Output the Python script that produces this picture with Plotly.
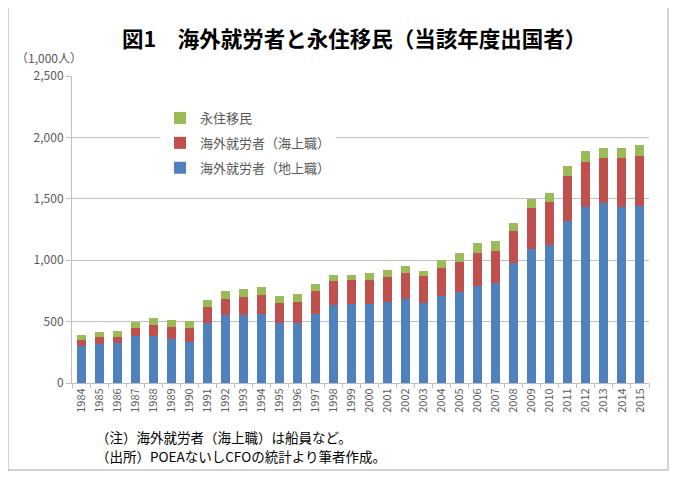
import plotly.graph_objects as go

years = [str(y) for y in range(1984, 2016)]
land_based = [300, 320, 323, 382, 385, 355, 335, 489, 550, 551, 564, 488, 485, 559,
              638, 640, 643, 662, 682, 652, 705, 740, 788, 811, 974, 1092, 1124, 1319,
              1435, 1469, 1431, 1438]
sea_based = [51, 52, 55, 67, 86, 103, 111, 126, 137, 146, 154, 165, 175, 188,
             193, 197, 198, 205, 210, 216, 229, 248, 274, 267, 262, 330, 347, 369,
             367, 367, 402, 407]
permanent = [38, 41, 44, 48, 57, 54, 57, 65, 65, 65, 62, 54, 68, 57,
             47, 43, 52, 54, 62, 48, 71, 71, 79, 79, 66, 79, 79, 81,
             84, 76, 79, 93]

names = ["海外就労者（地上職）", "海外就労者（海上職）", "永住移民"]
colors = ["#4F81BD", "#C0504D", "#9BBB59"]
ranks = [3, 2, 1]
yticks = [0, 500, 1000, 1500, 2000, 2500]

# page body has an 8px margin; work in screen pixels and shift
OFF = 8
W, H = 679 - OFF, 479 - OFF
# plot area in screen pixels
PX0, PX1, PY0, PY1 = 72, 649, 76, 383
L, T = PX0 - OFF, PY0 - OFF
R, B = W - (PX1 - OFF), H - (PY1 - OFF)
pw, ph = PX1 - PX0, PY1 - PY0

def fx(px):
    return (px - PX0) / pw

def fy(py):
    return (PY1 - py) / ph

JP = "Noto Sans CJK JP"

fig = go.Figure()
for vals, name, col, rk in zip([land_based, sea_based, permanent], names, colors, ranks):
    fig.add_trace(go.Bar(x=years, y=vals, name=name, marker_color=col,
                         marker_line_width=0, legendgroup=name, legendrank=rk))

fig.update_layout(
    width=W, height=H,
    margin=dict(l=L, r=R, t=T, b=B, autoexpand=False),
    barmode="stack", bargap=0.5,
    paper_bgcolor="white", plot_bgcolor="white",
    font=dict(family=JP, color="#595959", size=11),
    showlegend=True,
    legend=dict(x=fx(160), y=fy(103), xanchor="left", yanchor="top",
                traceorder="grouped", bgcolor="white",
                font=dict(size=13, color="#595959", family=JP),
                itemwidth=30, tracegroupgap=5),
    xaxis=dict(type="category", tickangle=-90, ticks="outside", tickson="boundaries",
               ticklen=4, tickcolor="#BFBFBF", showline=True, linecolor="#BFBFBF",
               tickfont=dict(size=11, color="#595959", family=JP),
               showgrid=False),
    yaxis=dict(range=[0, 2500], tickvals=yticks, tickformat=",", ticks="outside",
               ticklen=5, tickcolor="#BFBFBF", showline=True, linecolor="#BFBFBF",
               gridcolor="#BFBFBF", gridwidth=1, zeroline=False,
               tickfont=dict(size=12, color="#595959", family=JP)),
)

fig.add_shape(type="rect", xref="paper", yref="paper",
              x0=fx(8), x1=fx(668), y0=fy(470), y1=fy(5),
              line=dict(color="#A6A6A6", width=1), fillcolor="rgba(0,0,0,0)", layer="below")

fig.add_annotation(text="<b>図1　海外就労者と永住移民（当該年度出国者）</b>",
                   xref="paper", yref="paper", x=fx(354), y=fy(38),
                   xanchor="center", yanchor="middle", showarrow=False,
                   font=dict(size=21.5, color="#000000", family=JP))
fig.add_annotation(text="（1,000人）", xref="paper", yref="paper",
                   x=fx(14), y=fy(58), xanchor="left", yanchor="middle",
                   showarrow=False, font=dict(size=12, color="#595959", family=JP))
fig.add_annotation(text="（注）海外就労者（海上職）は船員など。", xref="paper", yref="paper",
                   x=fx(94), y=fy(437), xanchor="left", yanchor="middle",
                   showarrow=False, font=dict(size=13.5, color="#000000", family=JP))
fig.add_annotation(text="（出所）POEAないしCFOの統計より筆者作成。", xref="paper", yref="paper",
                   x=fx(94), y=fy(456), xanchor="left", yanchor="middle",
                   showarrow=False, font=dict(size=13.5, color="#000000", family=JP))

fig.write_html("out.html")
